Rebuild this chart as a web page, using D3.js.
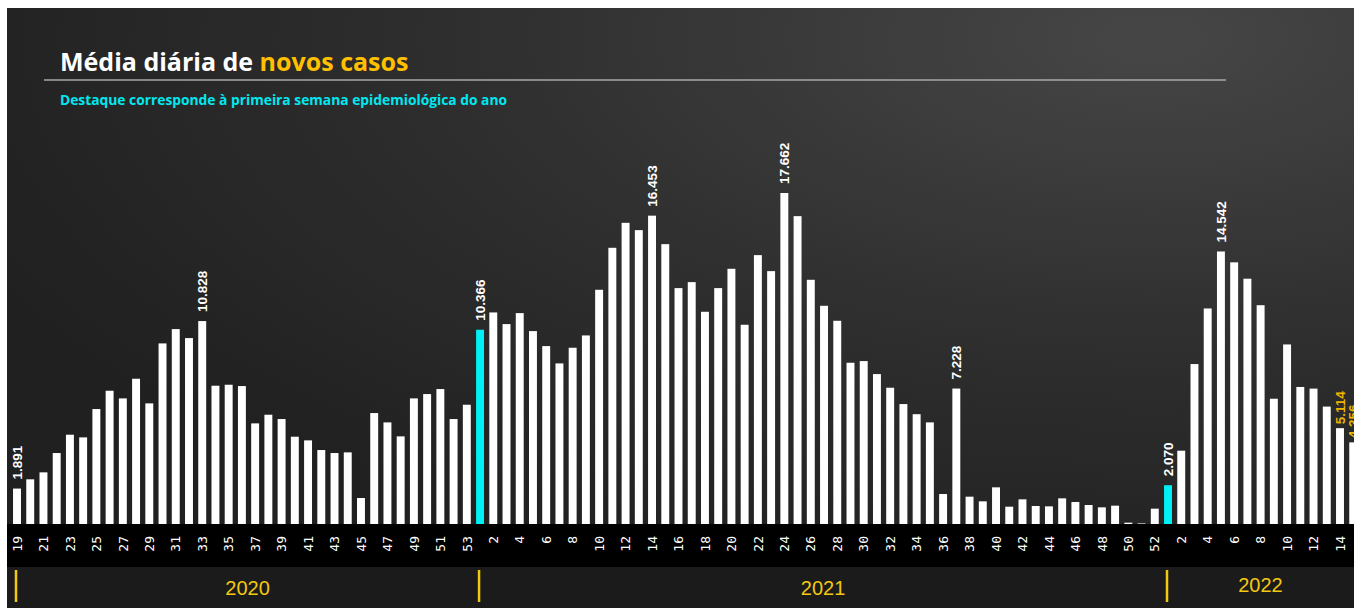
<!DOCTYPE html>
<html lang="pt">
<head>
<meta charset="UTF-8">
<title>Média diária de novos casos</title>
<style>
  html, body { margin: 0; padding: 0; background: #fff; }
  svg { display: block; }
  .tick text { font-family: "DejaVu Sans Mono", monospace; font-size: 13px; fill: #fff; }
</style>
</head>
<body>
<svg width="1354" height="608"></svg>
<script src="https://d3js.org/d3.v7.min.js"></script>
<script>
// epidemiological weeks per year
const weeks2020 = [19,20,21,22,23,24,25,26,27,28,29,30,31,32,33,34,35,36,37,38,39,40,41,42,43,44,45,46,47,48,49,50,51,52,53];
const weeks2021 = [1,2,3,4,5,6,7,8,9,10,11,12,13,14,15,16,17,18,19,20,21,22,23,24,25,26,27,28,29,30,31,32,33,34,35,36,37,38,39,40,41,42,43,44,45,46,47,48,49,50,51,52];
const weeks2022 = [1,2,3,4,5,6,7,8,9,10,11,12,13,14,15];

// daily average of new cases
const cases2020 = [1891,2384,2756,3787,4764,4622,6133,7111,6702,7751,6436,9636,10400,9920,10828,7378,7431,7360,5369,5831,5600,4658,4462,3947,3787,3822,1387,5920,5422,4676,6702,6933,7200,5600,6364];
const cases2021 = [10366,11289,10667,11253,10293,9493,8569,9404,10062,12498,14738,16071,15680,16453,14933,12587,12907,11324,12587,13618,10631,14347,13493,17662,16427,13031,11644,10844,8604,8693,8000,7271,6400,5860,5422,1600,7228,1458,1209,1956,924,1316,960,942,1369,1173,1013,889,978,70,30,818];
const cases2022 = [2070,3911,8534,11501,14542,13962,13089,11675,6684,9581,7312,7225,6265,5114,4356];

const years = ["2020", "2021", "2022"];
// bars with a value label
const labeledWhite = ["2020-19","2020-33","2021-1","2021-14","2021-24","2021-37","2022-1","2022-5"];
const labeledYellow = ["2022-14","2022-15"];

const W = 1354, H = 608;
const baseY = 524;

// flat table
const data = [];
[[years[0], weeks2020, cases2020], [years[1], weeks2021, cases2021], [years[2], weeks2022, cases2022]]
  .forEach(([yr, wks, vals]) => {
    wks.forEach((w, i) => data.push({ key: yr + "-" + w, year: yr, week: w, value: vals[i] }));
  });

const svg = d3.select("svg");

// background
const defs = svg.append("defs");
const grad = defs.append("radialGradient").attr("id", "bg")
  .attr("cx", "85%").attr("cy", "5%").attr("r", "95%");
grad.append("stop").attr("offset", "0%").attr("stop-color", "#464646");
grad.append("stop").attr("offset", "55%").attr("stop-color", "#2e2e2e");
grad.append("stop").attr("offset", "100%").attr("stop-color", "#202020");

svg.append("rect").attr("x", 7).attr("y", 8).attr("width", W - 7).attr("height", H - 8)
  .attr("fill", "url(#bg)");

// title
const title = svg.append("text").attr("x", 60).attr("y", 71)
  .style("font-family", "'Open Sans', sans-serif").style("font-weight", 700).style("font-size", "25px");
title.append("tspan").attr("fill", "#fff").text("Média diária de ");
title.append("tspan").attr("fill", "#ffc000").text("novos casos");

svg.append("line").attr("x1", 44).attr("x2", 1226).attr("y1", 80).attr("y2", 80)
  .attr("stroke", "#a8a8a8").attr("stroke-width", 1.5);

svg.append("text").attr("x", 60).attr("y", 105)
  .style("font-family", "'Open Sans', sans-serif").style("font-weight", 700).style("font-size", "13.8px")
  .attr("fill", "#00e8f0")
  .text("Destaque corresponde à primeira semana epidemiológica do ano");

// scales
const step = 13.23;
const x0 = 17 - step / 2;
const x = d3.scaleBand()
  .domain(data.map(d => d.key))
  .range([x0, x0 + step * data.length])
  .paddingInner(0.4).paddingOuter(0.2);

const y = d3.scaleLinear()
  .domain([0, d3.max(data, d => d.value)])
  .range([baseY, 193]);

// axis band and year band
svg.append("rect").attr("x", 7).attr("y", baseY).attr("width", W - 7).attr("height", 43).attr("fill", "#000");
svg.append("rect").attr("x", 7).attr("y", 567).attr("width", W - 7).attr("height", H - 567).attr("fill", "#1b1b1b");

// bars
svg.append("g").selectAll("rect")
  .data(data).enter().append("rect")
  .attr("x", d => x(d.key))
  .attr("width", x.bandwidth())
  .attr("y", d => y(d.value))
  .attr("height", d => baseY - y(d.value))
  .attr("fill", d => d.week === 1 ? "#00f0f5" : "#ffffff");

// week axis
const tickKeys = data.filter((d, i) => i % 2 === 0).map(d => d.key);
const axis = svg.append("g").attr("transform", "translate(0," + baseY + ")")
  .call(d3.axisBottom(x).tickValues(tickKeys).tickSize(0).tickFormat(k => k.split("-")[1]));
axis.select(".domain").remove();
axis.selectAll("text")
  .attr("transform", "rotate(-90)")
  .attr("text-anchor", "end")
  .attr("x", -12).attr("y", 0).attr("dy", "0.36em");

// value labels
const br = d3.formatLocale({ decimal: ",", thousands: ".", grouping: [3], currency: ["R$", ""] }).format(",d");
const cx = d => x(d.key) + x.bandwidth() / 2;

svg.append("g").selectAll("text")
  .data(data.filter(d => labeledWhite.includes(d.key))).enter().append("text")
  .attr("transform", d => "translate(" + (cx(d) + 5) + "," + (y(d.value) - 9) + ") rotate(-90)")
  .style("font-family", "'Liberation Sans', Arial, sans-serif").style("font-weight", 700).style("font-size", "13.5px")
  .attr("fill", "#fff")
  .text(d => br(d.value));

svg.append("g").selectAll("text")
  .data(data.filter(d => labeledYellow.includes(d.key))).enter().append("text")
  .attr("transform", d => "translate(" + (cx(d) + 5) + "," + (y(d.value) - 4) + ") rotate(-90)")
  .style("font-family", "'Liberation Sans', Arial, sans-serif").style("font-weight", 700).style("font-size", "13.5px")
  .attr("fill", "#f0b400")
  .text(d => br(d.value));

// year separators and labels
const firstKeys = years.map(yr => data.find(d => d.year === yr).key);
const sepX = firstKeys.map(k => x(k) + x.bandwidth() / 2 - 1);
svg.append("g").selectAll("line")
  .data(sepX).enter().append("line")
  .attr("x1", d => d).attr("x2", d => d).attr("y1", 570).attr("y2", 602)
  .attr("stroke", "#f2c811").attr("stroke-width", 2.5);

svg.append("g").selectAll("text")
  .data(years).enter().append("text")
  .attr("x", (d, i) => (sepX[i] + (i < 2 ? sepX[i + 1] : W)) / 2)
  .attr("y", (d, i) => i < 2 ? 595 : 592)
  .attr("text-anchor", "middle")
  .style("font-family", "'Liberation Sans', Arial, sans-serif").style("font-size", "20px")
  .attr("fill", "#f2c811")
  .text(d => d);
</script>
</body>
</html>
